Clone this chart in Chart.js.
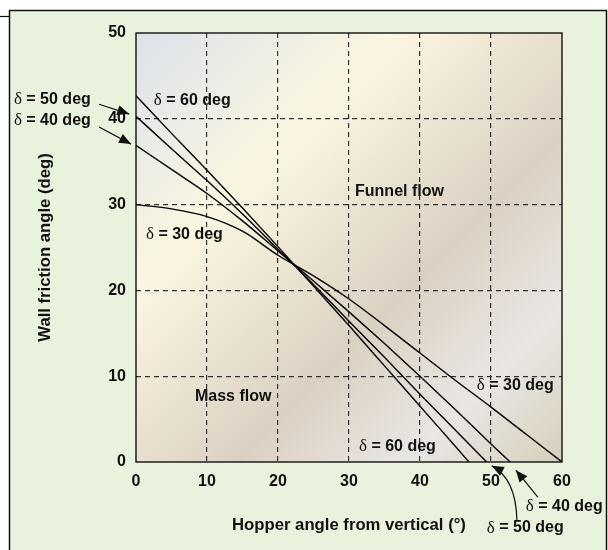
<!DOCTYPE html>
<html><head><meta charset="utf-8">
<script src="https://cdn.jsdelivr.net/npm/chart.js@4/dist/chart.umd.min.js"></script>
<style>html,body{margin:0;padding:0;background:#fff;overflow:hidden}#wrap{width:608px;height:550px;position:relative}</style>
</head><body><div id="wrap"><canvas id="c" width="608" height="550"></canvas></div>
<script>
// ---- data ----
const xTicks = [0, 10, 20, 30, 40, 50, 60];
const yTicks = [0, 10, 20, 30, 40, 50];
const hopper60 = [0, 5, 10, 15, 20, 25, 30, 35, 40, 45, 46.9];
const wall60   = [42.7, 38.3, 34.0, 29.6, 25.1, 20.5, 15.9, 11.2, 6.5, 1.8, 0];
const hopper50 = [0, 5, 10, 15, 20, 25, 30, 35, 40, 45, 49.4];
const wall50   = [40.3, 36.5, 32.8, 28.9, 24.8, 20.7, 16.4, 12.2, 7.9, 3.7, 0];
const hopper40 = [0, 5, 10, 15, 20, 25, 30, 35, 40, 45, 50, 52.7];
const wall40   = [36.9, 34.1, 31.3, 28.1, 24.6, 21.1, 17.5, 13.8, 10.0, 6.1, 2.1, 0];
const hopper30 = [0, 5, 10, 15, 20, 25, 30, 35, 40, 45, 50, 55, 60];
const wall30   = [30.0, 29.5, 28.6, 26.9, 24.1, 21.7, 19.0, 15.9, 12.7, 9.5, 6.4, 3.2, 0];
const seriesNames = ['δ = 60 deg', 'δ = 50 deg', 'δ = 40 deg', 'δ = 30 deg'];
const xTitle = 'Hopper angle from vertical (°)';
const yTitle = 'Wall friction angle (deg)';
const regionLabels = ['Funnel flow', 'Mass flow'];

// ---- annotation layout (data coordinates) ----
const labelLayout = [
  {t: seriesNames[0], x: 2.5, y: 42.1},
  {t: seriesNames[1], x: -17.2, y: 42.2},
  {t: seriesNames[2], x: -17.2, y: 39.75},
  {t: seriesNames[3], x: 1.4, y: 26.5},
  {t: regionLabels[0], x: 30.85, y: 31.5},
  {t: regionLabels[1], x: 8.3, y: 7.6},
  {t: seriesNames[0], x: 31.4, y: 1.85},
  {t: seriesNames[3], x: 48.0, y: 8.95},
  {t: seriesNames[2], x: 54.9, y: -5.15},
  {t: seriesNames[1], x: 49.4, y: -7.7}
];
const arrowLayout = [
  {x0: -5.2, y0: 41.7, x1: -0.95, y1: 40.55},
  {x0: -5.2, y0: 39.05, x1: -0.7, y1: 37.05},
  {x0: 56.6, y0: -4.1, x1: 53.5, y1: -0.95},
  {x0: 53.65, y0: -6.75, cx: 53.5, cy: -1.9, x1: 50.1, y1: -0.45}
];

const SANS = '"Liberation Sans", Arial, Helvetica, sans-serif';
const SERIF = '"Liberation Serif", "Times New Roman", serif';

function toPts(xs, ys){ return xs.map((x,i)=>({x:x, y:ys[i]})); }

const decor = {
  id: 'decor',
  beforeDraw(chart){
    const {ctx, chartArea:a} = chart;
    ctx.save();
    ctx.fillStyle = '#ffffff'; ctx.fillRect(0,0,608,550);
    ctx.fillStyle = '#e9f2dc'; ctx.fillRect(9,10,598,540);
    ctx.strokeStyle = '#111'; ctx.lineWidth = 1.5;
    ctx.beginPath(); ctx.moveTo(9.5,551); ctx.lineTo(9.5,10.5); ctx.lineTo(606.5,10.5); ctx.lineTo(606.5,551); ctx.stroke();
    ctx.lineWidth = 1.2;
    ctx.beginPath(); ctx.moveTo(0,16.5); ctx.lineTo(9,16.5); ctx.stroke();
    const g = ctx.createLinearGradient(a.left, a.top, a.right, a.bottom);
    g.addColorStop(0, '#dce2ea');
    g.addColorStop(0.3, '#fbf6e1');
    g.addColorStop(0.62, '#dbd1c3');
    g.addColorStop(0.82, '#e9e6e3');
    g.addColorStop(1, '#d5cfba');
    ctx.fillStyle = g;
    ctx.fillRect(a.left, a.top, a.width, a.height);
    ctx.restore();
  },
  afterDraw(chart){
    const {ctx, chartArea:a, scales:{x, y}} = chart;
    ctx.save();
    ctx.strokeStyle = '#000'; ctx.lineWidth = 1.3;
    ctx.strokeRect(a.left, a.top, a.width, a.height);
    ctx.fillStyle = '#111';
    ctx.textBaseline = 'middle'; ctx.textAlign = 'left';
    labelLayout.forEach(l => {
      const px = x.getPixelForValue(l.x), py = y.getPixelForValue(l.y);
      if (l.t.startsWith('δ')) {
        ctx.font = '17px ' + SERIF;
        ctx.fillText('δ', px, py);
        const w = ctx.measureText('δ').width;
        ctx.font = 'bold 16px ' + SANS;
        ctx.fillText(l.t.slice(1), px + w, py);
      } else {
        ctx.font = 'bold 16px ' + SANS;
        ctx.fillText(l.t, px, py);
      }
    });
    ctx.strokeStyle = '#111'; ctx.lineWidth = 1.2;
    arrowLayout.forEach(ar => {
      const x0 = x.getPixelForValue(ar.x0), y0 = y.getPixelForValue(ar.y0);
      const x1 = x.getPixelForValue(ar.x1), y1 = y.getPixelForValue(ar.y1);
      let dx, dy;
      ctx.beginPath(); ctx.moveTo(x0, y0);
      if (ar.cx !== undefined) {
        const cx = x.getPixelForValue(ar.cx), cy = y.getPixelForValue(ar.cy);
        ctx.quadraticCurveTo(cx, cy, x1, y1);
        dx = x1 - cx; dy = y1 - cy;
      } else {
        ctx.lineTo(x1, y1);
        dx = x1 - x0; dy = y1 - y0;
      }
      ctx.stroke();
      const L = Math.hypot(dx, dy); const ux = dx/L, uy = dy/L;
      const hl = 12, hw = 5;
      ctx.beginPath();
      ctx.moveTo(x1, y1);
      ctx.lineTo(x1 - ux*hl - uy*hw, y1 - uy*hl + ux*hw);
      ctx.lineTo(x1 - ux*hl + uy*hw, y1 - uy*hl - ux*hw);
      ctx.closePath(); ctx.fill();
    });
    ctx.restore();
  }
};

function ds(name, xs, ys){
  return {label: name, data: toPts(xs, ys), borderColor: '#000', borderWidth: 1.4,
          pointRadius: 0, fill: false, cubicInterpolationMode: 'monotone'};
}

const gridColor = (c) => (c.tick && (c.tick.value === c.scale.min || c.tick.value === c.scale.max)) ? 'rgba(0,0,0,0)' : '#333';

new Chart(document.getElementById('c'), {
  type: 'line',
  data: {datasets: [
    ds(seriesNames[0], hopper60, wall60),
    ds(seriesNames[1], hopper50, wall50),
    ds(seriesNames[2], hopper40, wall40),
    ds(seriesNames[3], hopper30, wall30)
  ]},
  options: {
    responsive: false, animation: false, devicePixelRatio: 1,
    layout: {padding: {left: 0, top: 33, right: 46, bottom: 0}},
    plugins: {legend: {display: false}, tooltip: {enabled: false}},
    scales: {
      x: {type: 'linear', min: 0, max: 60,
          afterBuildTicks: s => { s.ticks = xTicks.map(v => ({value: v})); },
          afterFit: s => { s.height = 88; },
          ticks: {padding: 10, color: '#111', font: {family: SANS, size: 16, weight: 'bold'}},
          grid: {color: gridColor, lineWidth: 1.2, drawTicks: false},
          border: {display: false, dash: [5, 4]},
          title: {display: true, text: xTitle, color: '#111', padding: {bottom: 15},
                  font: {family: SANS, size: 16.7, weight: 'bold'}}},
      y: {type: 'linear', min: 0, max: 50,
          afterBuildTicks: s => { s.ticks = yTicks.map(v => ({value: v})); },
          afterFit: s => { s.width = 136; },
          ticks: {padding: 10, color: '#111', font: {family: SANS, size: 16, weight: 'bold'}},
          grid: {color: gridColor, lineWidth: 1.2, drawTicks: false},
          border: {display: false, dash: [5, 4]},
          title: {display: true, text: yTitle, color: '#111', padding: {top: 35},
                  font: {family: SANS, size: 16.7, weight: 'bold'}}}
    }
  },
  plugins: [decor]
});
</script></body></html>
